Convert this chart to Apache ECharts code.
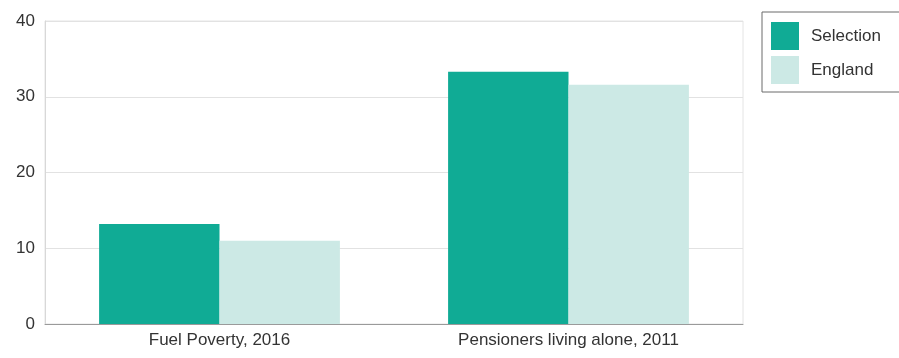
<!DOCTYPE html>
<html>
<head>
<meta charset="utf-8">
<script src="https://cdn.jsdelivr.net/npm/echarts@6/dist/echarts.min.js"></script>
<style>
  html, body { margin: 0; padding: 0; background: #fff; }
  #chart { width: 899px; height: 358px; }
</style>
</head>
<body>
<div id="chart"></div>
<script>
// Indicator categories along the x axis
const categories = ['Fuel Poverty, 2016', 'Pensioners living alone, 2011'];
// Percentage values per area
const selectionValues = [13.2, 33.3];
const englandValues = [11.0, 31.6];
const seriesNames = ['Selection', 'England'];

const chart = echarts.init(document.getElementById('chart'), null, { renderer: 'canvas' });

const font = 'Liberation Sans, Arial, sans-serif';

chart.setOption({
  animation: false,
  backgroundColor: '#ffffff',
  grid: {
    left: 45, right: 156, top: 21, bottom: 34,
    show: true, borderColor: '#e4e4e4', borderWidth: 1
  },
  legend: {
    orient: 'vertical',
    left: 762, top: 12,
    data: seriesNames,
    icon: 'rect',
    itemWidth: 28, itemHeight: 28, itemGap: 6,
    padding: [10, 40, 8, 9],
    borderColor: '#6b6b6b', borderWidth: 1,
    textStyle: { fontFamily: font, fontSize: 17, color: '#333', padding: [0, 0, 0, 7] }
  },
  xAxis: {
    type: 'category',
    data: categories,
    axisLine: { lineStyle: { color: '#9a9a9a', width: 1 } },
    axisTick: { show: false },
    axisLabel: { fontFamily: font, fontSize: 17, color: '#333', margin: 8 }
  },
  yAxis: {
    type: 'value',
    min: 0, max: 40, interval: 10,
    axisLine: { show: true, lineStyle: { color: '#d8d8d8' } },
    axisTick: { show: false },
    splitLine: { lineStyle: { color: '#e2e2e2' } },
    axisLabel: { fontFamily: font, fontSize: 17, color: '#333', margin: 10 }
  },
  series: [
    {
      name: seriesNames[0], type: 'bar', data: selectionValues,
      itemStyle: { color: '#10ab95' },
      barCategoryGap: '31%', barGap: '0%'
    },
    {
      name: seriesNames[1], type: 'bar', data: englandValues,
      itemStyle: { color: '#cce9e5' },
      barCategoryGap: '31%', barGap: '0%'
    }
  ]
});
</script>
</body>
</html>
